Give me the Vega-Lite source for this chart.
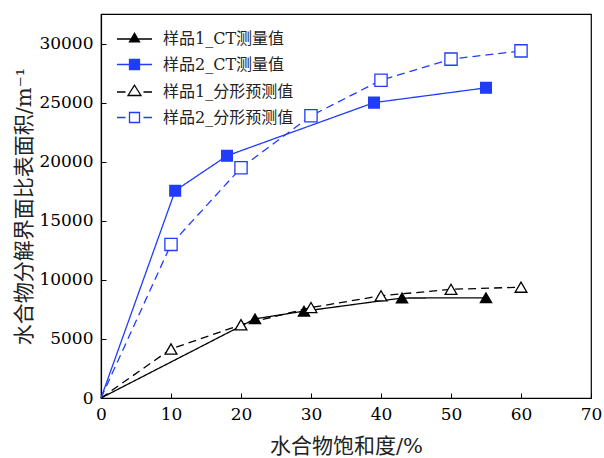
{
  "$schema": "https://vega.github.io/schema/vega-lite/v6.json",
  "width": 490,
  "height": 384,
  "autosize": "none",
  "padding": {"left": 101, "top": 14, "right": 13, "bottom": 60},
  "background": "white",
  "data": {
    "values": [
      {"series": "样品1_CT测量值", "x": 0, "y": 0},
      {"series": "样品1_CT测量值", "x": 22, "y": 6700},
      {"series": "样品1_CT测量值", "x": 29, "y": 7350},
      {"series": "样品1_CT测量值", "x": 43, "y": 8460},
      {"series": "样品1_CT测量值", "x": 55, "y": 8480},
      {"series": "样品2_CT测量值", "x": 0, "y": 0},
      {"series": "样品2_CT测量值", "x": 10.6, "y": 17550},
      {"series": "样品2_CT测量值", "x": 18, "y": 20500},
      {"series": "样品2_CT测量值", "x": 39, "y": 25000},
      {"series": "样品2_CT测量值", "x": 55, "y": 26250},
      {"series": "样品1_分形预测值", "x": 0, "y": 0},
      {"series": "样品1_分形预测值", "x": 10, "y": 4150},
      {"series": "样品1_分形预测值", "x": 20, "y": 6200},
      {"series": "样品1_分形预测值", "x": 30, "y": 7650},
      {"series": "样品1_分形预测值", "x": 40, "y": 8650},
      {"series": "样品1_分形预测值", "x": 50, "y": 9200},
      {"series": "样品1_分形预测值", "x": 60, "y": 9380},
      {"series": "样品2_分形预测值", "x": 0, "y": 0},
      {"series": "样品2_分形预测值", "x": 10, "y": 13000},
      {"series": "样品2_分形预测值", "x": 20, "y": 19480},
      {"series": "样品2_分形预测值", "x": 30, "y": 23880},
      {"series": "样品2_分形预测值", "x": 40, "y": 26900},
      {"series": "样品2_分形预测值", "x": 50, "y": 28680},
      {"series": "样品2_分形预测值", "x": 60, "y": 29380}
    ]
  },
  "encoding": {
    "x": {
      "field": "x", "type": "quantitative",
      "scale": {"domain": [0, 70], "nice": false, "zero": true},
      "axis": {"title": "水合物饱和度/%", "values": [0, 10, 20, 30, 40, 50, 60, 70], "titlePadding": 13}
    },
    "y": {
      "field": "y", "type": "quantitative",
      "scale": {"domain": [0, 32500], "nice": false},
      "axis": {"title": "水合物分解界面比表面积/m⁻¹", "format": "d", "values": [0, 5000, 10000, 15000, 20000, 25000, 30000], "titlePadding": 4}
    }
  },
  "layer": [
    {
      "mark": {"type": "line", "strokeWidth": 1.3},
      "encoding": {
        "color": {
          "field": "series", "type": "nominal", "legend": null,
          "scale": {"domain": ["样品2_CT测量值", "样品1_CT测量值", "样品1_分形预测值", "样品2_分形预测值"], "range": ["#1f3cff", "#000000", "#000000", "#1f3cff"]}
        },
        "strokeDash": {
          "field": "series", "type": "nominal", "legend": null,
          "scale": {"domain": ["样品2_CT测量值", "样品1_CT测量值", "样品1_分形预测值", "样品2_分形预测值"], "range": [[1, 0], [1, 0], [8, 5], [8, 5]]}
        }
      }
    },
    {
      "transform": [{"filter": "datum.x > 0 && (datum.series === '样品1_CT测量值' || datum.series === '样品1_分形预测值')"}],
      "mark": {"type": "point", "shape": "triangle-up", "strokeWidth": 1.3, "opacity": 1, "filled": false},
      "encoding": {
        "fill": {
          "field": "series", "type": "nominal",
          "scale": {"domain": ["样品1_CT测量值", "样品2_CT测量值", "样品1_分形预测值", "样品2_分形预测值"], "range": ["#000000", "#1f3cff", "#ffffff", "#ffffff"]}
        },
        "stroke": {
          "field": "series", "type": "nominal",
          "scale": {"domain": ["样品1_CT测量值", "样品2_CT测量值", "样品1_分形预测值", "样品2_分形预测值"], "range": ["#000000", "#1f3cff", "#000000", "#1f3cff"]}
        },
        "size": {
          "field": "series", "type": "nominal", "legend": null,
          "scale": {"domain": ["样品2_CT测量值", "样品1_CT测量值", "样品1_分形预测值", "样品2_分形预测值"], "range": [115, 150, 135, 85]}
        }
      }
    },
    {
      "transform": [{"filter": "datum.x > 0 && (datum.series === '样品2_CT测量值' || datum.series === '样品2_分形预测值')"}],
      "mark": {"type": "point", "shape": "square", "strokeWidth": 1.3, "opacity": 1, "filled": false},
      "encoding": {
        "fill": {
          "field": "series", "type": "nominal",
          "scale": {"domain": ["样品1_CT测量值", "样品2_CT测量值", "样品1_分形预测值", "样品2_分形预测值"], "range": ["#000000", "#1f3cff", "#ffffff", "#ffffff"]}
        },
        "stroke": {
          "field": "series", "type": "nominal",
          "scale": {"domain": ["样品1_CT测量值", "样品2_CT测量值", "样品1_分形预测值", "样品2_分形预测值"], "range": ["#000000", "#1f3cff", "#000000", "#1f3cff"]}
        },
        "size": {
          "field": "series", "type": "nominal", "legend": null,
          "scale": {"domain": ["样品2_CT测量值", "样品1_CT测量值", "样品1_分形预测值", "样品2_分形预测值"], "range": [115, 150, 135, 85]}
        }
      }
    },
    {
      "transform": [{"filter": "false"}],
      "mark": {"type": "point", "strokeWidth": 1.3, "opacity": 1, "filled": false},
      "encoding": {
        "fill": {
          "field": "series", "type": "nominal",
          "scale": {"domain": ["样品1_CT测量值", "样品2_CT测量值", "样品1_分形预测值", "样品2_分形预测值"], "range": ["#000000", "#1f3cff", "#ffffff", "#ffffff"]}
        },
        "stroke": {
          "field": "series", "type": "nominal",
          "scale": {"domain": ["样品1_CT测量值", "样品2_CT测量值", "样品1_分形预测值", "样品2_分形预测值"], "range": ["#000000", "#1f3cff", "#000000", "#1f3cff"]}
        },
        "shape": {
          "field": "series", "type": "nominal",
          "scale": {
            "domain": ["样品1_CT测量值", "样品2_CT测量值", "样品1_分形预测值", "样品2_分形预测值"],
            "range": [
              "M-3.5,0L3.5,0M0,-1.15L1,0.58L-1,0.58Z",
              "M-3.5,0L3.5,0M-1,-1L1,-1L1,1L-1,1Z",
              "M-3.5,0L-1.8,0M1.8,0L3.5,0M0,-1.35L1.3,0.7L-1.3,0.7Z",
              "M-3.5,0L-1.8,0M1.8,0L3.5,0M-1,-1L1,-1L1,1L-1,1Z"
            ]
          },
          "legend": {
            "orient": "none", "legendX": 25.5, "legendY": 17, "title": null, "padding": 0,
            "symbolSize": 100, "symbolStrokeWidth": 1.3, "labelOffset": 20.5, "rowPadding": 9.5,
            "labelFontSize": 16, "labelFont": "DejaVu Serif, Noto Sans CJK SC", "labelColor": "#222222"
          }
        }
      }
    }
  ],
  "config": {
    "font": "DejaVu Serif, Noto Sans CJK SC",
    "view": {"stroke": "#000000", "strokeWidth": 1.2},
    "axis": {
      "grid": false,
      "domainColor": "#000000", "domainWidth": 1.2,
      "tickColor": "#000000", "tickSize": -5, "tickWidth": 1,
      "labelPadding": 13,
      "labelFont": "DejaVu Serif", "labelFontSize": 17, "labelColor": "#000000",
      "titleFont": "DejaVu Serif, Noto Sans CJK SC", "titleFontSize": 21, "titleFontWeight": "normal", "titleColor": "#222222",
      "labelFlush": false, "labelOverlap": false
    }
  }
}
